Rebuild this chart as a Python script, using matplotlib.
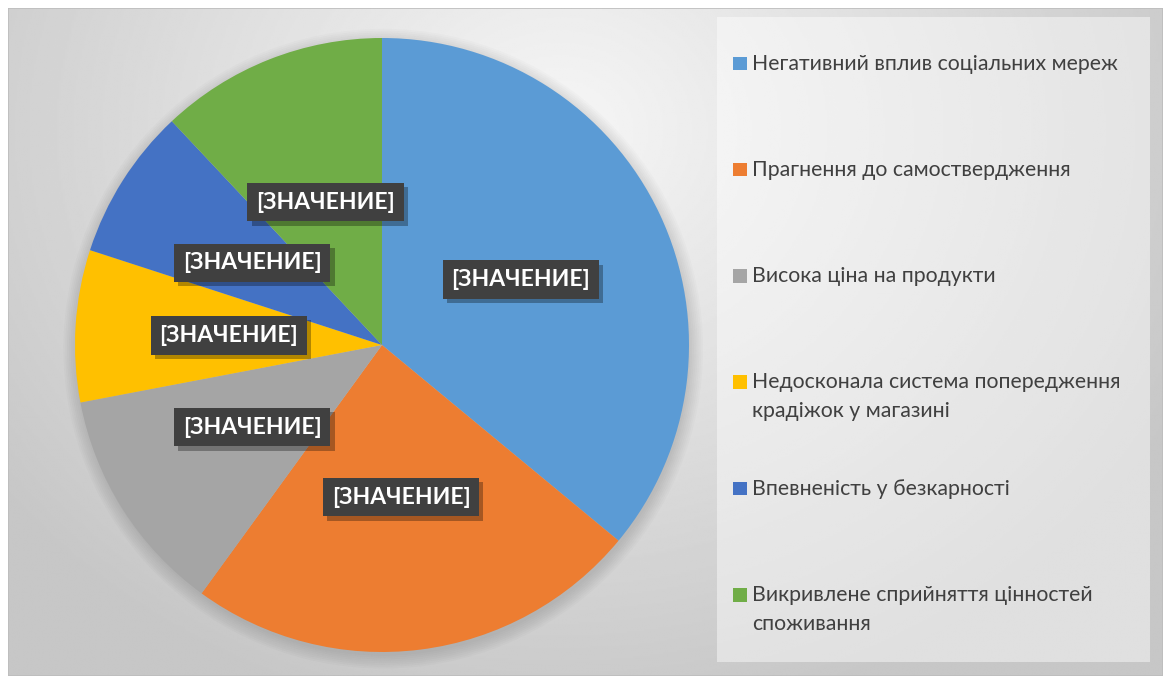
import matplotlib
matplotlib.use("Agg")
import matplotlib.pyplot as plt
import matplotlib.patheffects as pe
from matplotlib.patches import Rectangle, Circle
import numpy as np

# data
categories = [
    "Негативний вплив соціальних мереж",
    "Прагнення до самоствердження",
    "Висока ціна на продукти",
    "Недосконала система попередження\nкрадіжок у магазині",
    "Впевненість у безкарності",
    "Викривлене сприйняття цінностей\nспоживання",
]
values = [36, 24, 12, 8, 8, 12]
colors = ["#5B9BD5", "#ED7D31", "#A5A5A5", "#FFC000", "#4472C4", "#70AD47"]
label_text = "[ЗНАЧЕНИЕ]"

FONT = ["Lato", "Open Sans", "DejaVu Sans"]
plt.rcParams["font.family"] = FONT

W, H = 1168, 677
fig = plt.figure(figsize=(W / 100, H / 100), dpi=100)
fig.patch.set_facecolor("white")


def px(x0, y0, x1, y1):
    # pixel box (top-left origin) -> figure fraction rect
    return [x0 / W, 1 - y1 / H, (x1 - x0) / W, (y1 - y0) / H]


# chart area background with radial gradient
bg = fig.add_axes(px(8, 8, 1163, 676))
bg.set_axis_off()
xs = np.linspace(8, 1163, 600)
ys = np.linspace(8, 676, 350)
X, Y = np.meshgrid(xs, ys)
d = np.sqrt(((X - 560) / 700) ** 2 + ((Y - 130) / 600) ** 2)
shade = 0.965 - 0.185 * np.clip(d, 0, 1)
bg.imshow(shade, cmap="gray", vmin=0, vmax=1, extent=(0, 1, 0, 1),
          aspect="auto", origin="upper", interpolation="bilinear")
bg.add_patch(Rectangle((0, 0), 1, 1, transform=bg.transAxes, fill=False,
                       edgecolor="#bdbdbd", linewidth=1.2))
bg.set_xlim(0, 1)
bg.set_ylim(0, 1)

# legend box (semi transparent white over the gradient)
fig.patches.append(Rectangle((717 / W, 1 - 662 / H), (1150 - 717) / W, (662 - 17) / H,
                             transform=fig.transFigure, facecolor="white",
                             alpha=0.45, edgecolor="none", zorder=1))

# pie
cx, cy, r = 382, 345, 307
ax = fig.add_axes(px(cx - r, cy - r, cx + r, cy + r))
for k in range(8):
    ax.add_patch(Circle((0.004, -0.012), 1.0 + k * 0.006, color="black",
                        alpha=0.015, linewidth=0, zorder=0, clip_on=False))
wedges, texts, autotexts = ax.pie(
    values, colors=colors, startangle=90, counterclock=False,
    wedgeprops=dict(linewidth=0), autopct=lambda p: label_text,
    pctdistance=0.5, radius=1.0,
)
ax.set_xlim(-1, 1)
ax.set_ylim(-1, 1)
ax.set_aspect("auto")
ax.set_axis_off()

for t in autotexts:
    t.set_color("white")
    t.set_fontsize(16.5)
    t.set_fontweight("bold")
    t.set_family(FONT)
    t.set_bbox(dict(boxstyle="square,pad=0.38", facecolor="#404040",
                    edgecolor="none"))
    t.get_bbox_patch().set_path_effects([
        pe.withSimplePatchShadow(offset=(3, -3), shadow_rgbFace="black", alpha=0.3)
    ])
    t.set_zorder(5)

# legend entries
first_y = 63.5
step = 106.3
line_gap = 29
for i, (name, col) in enumerate(zip(categories, colors)):
    y = first_y + i * step
    fig.patches.append(Rectangle((733 / W, 1 - (y + 6.5) / H), 13.5 / W, 13.5 / H,
                                 transform=fig.transFigure, facecolor=col,
                                 edgecolor="none", zorder=3))
    for j, line in enumerate(name.split("\n")):
        fig.text(752 / W, 1 - (y + j * line_gap) / H, line, ha="left", va="center",
                 fontsize=15.3, color="#404040", zorder=4)

fig.savefig("out.png", dpi=100)
